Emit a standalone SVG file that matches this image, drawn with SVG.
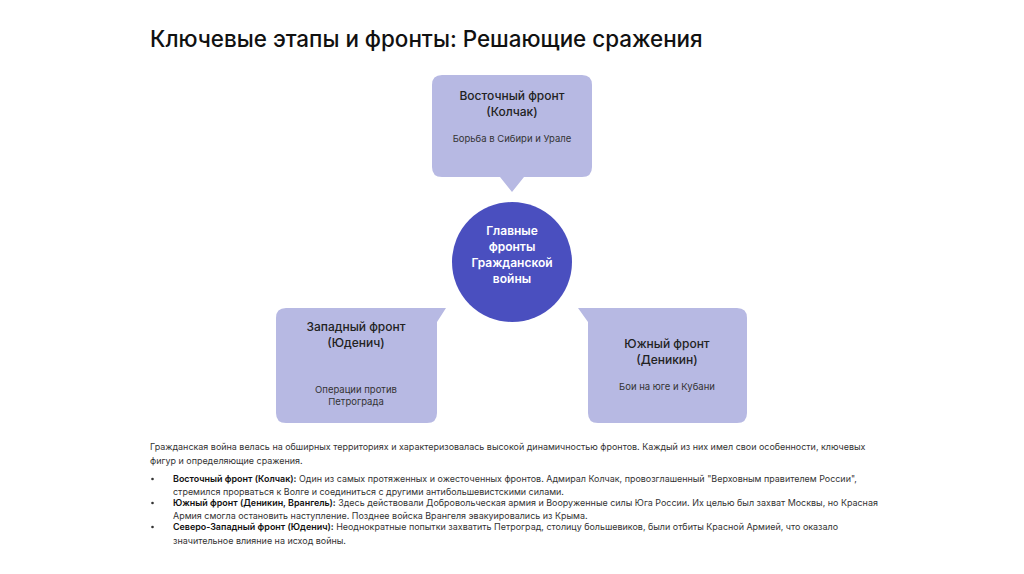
<svg xmlns="http://www.w3.org/2000/svg" width="1024" height="574" viewBox="0 0 1024 574">
<style>
.bg{fill:#ffffff}
.box{fill:#b7b9e3}
.circ{fill:#4a4fbf}
.title{font-family:Inter,"Liberation Sans",sans-serif;font-size:22.4px;font-weight:500;fill:#111}
.nt{font-family:Inter,"Liberation Sans",sans-serif;font-size:12px;font-weight:500;fill:#222;text-anchor:middle}
.ns{font-family:Inter,"Liberation Sans",sans-serif;font-size:9.5px;fill:#333;text-anchor:middle}
.ct{font-family:Inter,"Liberation Sans",sans-serif;font-size:12px;font-weight:600;fill:#fff;text-anchor:middle}
.body{font-family:Inter,"Liberation Sans",sans-serif;font-size:8.95px;fill:#333}
.b{font-weight:600;fill:#111}
</style>
<rect class="bg" x="0" y="0" width="1024" height="574"/>
<text class="title" x="150" y="47">Ключевые этапы и фронты: Решающие сражения</text>

<g id="node-east">
<path class="box" d="M442,75 H582 Q592,75 592,85 V167 Q592,177 582,177 H524 L512,192 L500,177 H442 Q432,177 432,167 V85 Q432,75 442,75 Z"/>
<text class="nt" x="512" y="100">Восточный фронт</text>
<text class="nt" x="512" y="116">(Колчак)</text>
<text class="ns" x="512" y="142">Борьба в Сибири и Урале</text>
</g>

<g id="node-center">
<circle class="circ" cx="512" cy="262" r="60"/>
<text class="ct" x="512" y="235">Главные</text>
<text class="ct" x="512" y="251">фронты</text>
<text class="ct" x="512" y="267">Гражданской</text>
<text class="ct" x="512" y="283">войны</text>
</g>

<g id="node-west">
<path class="box" d="M286,308 H446 L437,322 V413 Q437,423 427,423 H286 Q276,423 276,413 V318 Q276,308 286,308 Z"/>
<text class="nt" x="356" y="331">Западный фронт</text>
<text class="nt" x="356" y="347">(Юденич)</text>
<text class="ns" x="356" y="393">Операции против</text>
<text class="ns" x="356" y="405">Петрограда</text>
</g>

<g id="node-south">
<path class="box" d="M578,308 H737 Q747,308 747,318 V413 Q747,423 737,423 H598 Q588,423 588,413 V322 Z"/>
<text class="nt" x="667" y="348">Южный фронт</text>
<text class="nt" x="667" y="364">(Деникин)</text>
<text class="ns" x="667" y="390">Бои на юге и Кубани</text>
</g>

<g id="connectors"></g>

<g id="description">
<text class="body" x="150" y="450">Гражданская война велась на обширных территориях и характеризовалась высокой динамичностью фронтов. Каждый из них имел свои особенности, ключевых</text>
<text class="body" x="150" y="464">фигур и определяющие сражения.</text>
<circle cx="152.5" cy="479" r="1.3" fill="#333"/>
<text class="body" x="173" y="482"><tspan class="b">Восточный фронт (Колчак):</tspan> Один из самых протяженных и ожесточенных фронтов. Адмирал Колчак, провозглашенный "Верховным правителем России",</text>
<text class="body" x="173" y="495">стремился прорваться к Волге и соединиться с другими антибольшевистскими силами.</text>
<circle cx="152.5" cy="503" r="1.3" fill="#333"/>
<text class="body" x="173" y="506"><tspan class="b">Южный фронт (Деникин, Врангель):</tspan> Здесь действовали Добровольческая армия и Вооруженные силы Юга России. Их целью был захват Москвы, но Красная</text>
<text class="body" x="173" y="519">Армия смогла остановить наступление. Позднее войска Врангеля эвакуировались из Крыма.</text>
<circle cx="152.5" cy="527" r="1.3" fill="#333"/>
<text class="body" x="173" y="530"><tspan class="b">Северо-Западный фронт (Юденич):</tspan> Неоднократные попытки захватить Петроград, столицу большевиков, были отбиты Красной Армией, что оказало</text>
<text class="body" x="173" y="544">значительное влияние на исход войны.</text>
</g>
</svg>
